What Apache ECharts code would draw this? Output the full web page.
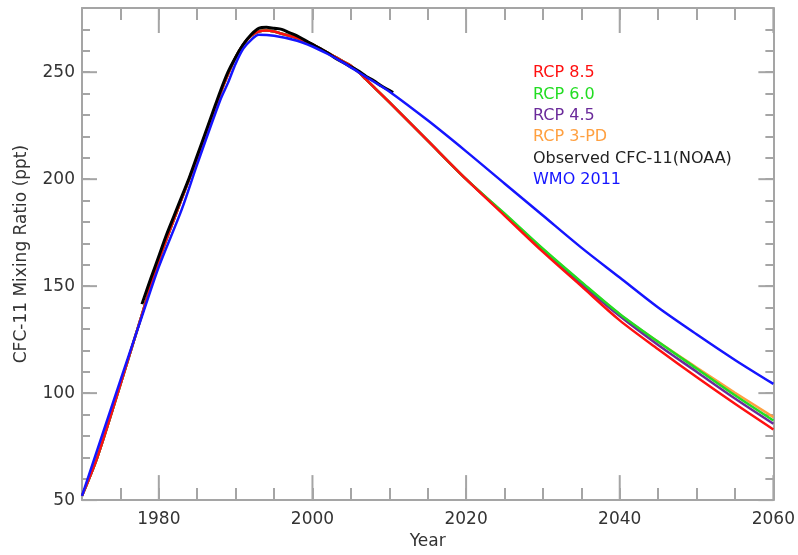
<!DOCTYPE html>
<html>
<head>
<meta charset="utf-8">
<script src="https://cdn.jsdelivr.net/npm/echarts@6/dist/echarts.min.js"></script>
<style>
  html, body { margin: 0; padding: 0; background: #fff; }
  #chart { width: 798px; height: 555px; }
</style>
</head>
<body>
<div id="chart"></div>
<script>
// years on the x axis for the RCP scenarios
var rcpYears = [1970, 1972, 1975, 1978, 1980, 1983, 1985, 1988, 1989, 1990, 1991, 1992, 1993, 1994, 1995, 1996, 1998, 2000, 2003, 2005, 2006, 2007, 2008, 2010, 2015, 2020, 2025, 2030, 2035, 2040, 2045, 2050, 2055, 2060];
var rcp85 = [52, 70, 104, 139, 162, 191, 210, 240, 249, 257, 263, 267, 269, 269.5, 269, 268, 266, 263, 257, 253, 250, 246.5, 243, 236, 218, 200, 183, 166, 150, 134, 120.5, 107.5, 95, 83];
var rcp60 = [52, 70, 104, 139, 162, 191, 210, 240, 249, 257, 263, 267, 269, 269.5, 269, 268, 266, 263, 257, 253, 250, 246.5, 243, 236, 218, 200, 184, 167.5, 152, 137, 124, 111.5, 99, 87.2];
var rcp45 = [52, 70, 104, 139, 162, 191, 210, 240, 249, 257, 263, 267, 269, 269.5, 269, 268, 266, 263, 257, 253, 250, 246.5, 243, 236, 218, 200, 183.5, 167, 151, 136, 122.5, 110, 97.5, 85.7];
var rcp3pd = [52, 70, 104, 139, 162, 191, 210, 240, 249, 257, 263, 267, 269, 269.5, 269, 268, 266, 263, 257, 253, 250, 246.5, 243, 236, 218, 200, 183.7, 167.3, 151.7, 136.8, 124, 112, 100.2, 88.8];

var obsYears = [1977.8, 1979, 1980, 1981, 1982, 1983, 1984, 1985, 1986, 1987, 1988, 1989, 1990, 1991, 1992, 1993, 1994, 1995, 1996, 1997, 1998, 1999, 2000, 2001, 2002, 2003, 2004, 2005, 2006, 2007, 2008, 2009, 2010, 2010.5];
var obsNoaa = [141.6, 154, 164, 174, 183, 192, 201, 211, 221, 231, 241, 250, 257, 263, 267.5, 270.5, 271, 270.5, 270, 268.5, 267, 265, 263, 261, 259, 256.5, 254.5, 252.5, 250.5, 248, 246, 243.5, 241.5, 240.5];

var wmoYears = [1970, 1975, 1978, 1980, 1983, 1985, 1988, 1989, 1990, 1991, 1992, 1993, 1995, 1998, 2000, 2002, 2004, 2006, 2008, 2010, 2015, 2020, 2025, 2030, 2035, 2040, 2045, 2050, 2055, 2060];
var wmo2011 = [52, 106, 138, 159, 186, 207, 237, 245, 254, 261, 265, 267.5, 267, 264.7, 262, 258.5, 254.5, 250, 245.5, 241, 227.5, 213, 198, 183, 168, 154, 140, 127.5, 115.5, 104.3];

// labelled (long) ticks
var xMajorTicks = [1980, 2000, 2020, 2040, 2060];
var yMajorTicks = [50, 100, 150, 200, 250];

function pairs(xs, ys) {
    return xs.map(function (x, i) { return [x, ys[i]]; });
}

var font = 'DejaVu Sans';
var axisGray = '#a5a5a5';
var tickLine = { color: axisGray, width: 2 };
var labelStyle = { color: '#333', fontFamily: font, fontSize: 17 };
var plain = function (v) { return String(v); };

function xAxisDef(pos) {
    return {
        type: 'value', position: pos, min: 1970, max: 2060, interval: 5,
        axisLine: { show: true, lineStyle: tickLine },
        axisTick: { inside: true, length: 12, lineStyle: tickLine },
        axisLabel: pos === 'bottom' ? Object.assign({ customValues: xMajorTicks, formatter: plain, margin: 11 }, labelStyle) : { show: false },
        splitLine: { show: false }
    };
}
function yAxisDef(pos) {
    return {
        type: 'value', position: pos, min: 50, max: 280, interval: 10,
        axisLine: { show: true, lineStyle: tickLine },
        axisTick: { inside: true, length: 8, lineStyle: tickLine },
        axisLabel: pos === 'left' ? Object.assign({ customValues: yMajorTicks, formatter: plain, margin: 7 }, labelStyle) : { show: false },
        splitLine: { show: false }
    };
}

var xMain = xAxisDef('bottom');
xMain.name = 'Year';
xMain.nameLocation = 'middle';
xMain.nameGap = 32;
xMain.nameTextStyle = labelStyle;
var yMain = yAxisDef('left');
yMain.name = 'CFC-11 Mixing Ratio (ppt)';
yMain.nameLocation = 'middle';
yMain.nameGap = 52;
yMain.nameTextStyle = labelStyle;

// long ticks on all four sides, placed through the axis scales
function tickSeg(x1, y1, x2, y2) {
    return { type: 'line', shape: { x1: x1, y1: y1, x2: x2, y2: y2 }, style: { stroke: axisGray, lineWidth: 2 } };
}
var majorTickSeries = [{
    type: 'custom', silent: true, z: 3, xAxisIndex: 0, yAxisIndex: 0,
    data: xMajorTicks.map(function (v) { return [v, 50]; }),
    renderItem: function (params, api) {
        var x = api.coord([api.value(0), 50])[0];
        var top = params.coordSys.y, bottom = top + params.coordSys.height;
        return { type: 'group', children: [tickSeg(x, bottom, x, bottom - 25), tickSeg(x, top, x, top + 25)] };
    }
}, {
    type: 'custom', silent: true, z: 3, xAxisIndex: 0, yAxisIndex: 0,
    data: yMajorTicks.map(function (v) { return [1970, v]; }),
    renderItem: function (params, api) {
        var y = api.coord([1970, api.value(1)])[1];
        var left = params.coordSys.x, right = left + params.coordSys.width;
        return { type: 'group', children: [tickSeg(left, y, left + 15, y), tickSeg(right, y, right - 15, y)] };
    }
}];

var colors = {
    r85: '#ff1010', r60: '#22dd22', r45: '#6a2a9a', r3: '#ffa040', obs: '#000000', wmo: '#1515ff'
};

function lineSeries(name, data, color, width) {
    return {
        name: name, type: 'line', data: data, xAxisIndex: 0, yAxisIndex: 0,
        showSymbol: false, smooth: 0.3, animation: false, z: 4,
        lineStyle: { color: color, width: width }, itemStyle: { color: color }
    };
}

var chart = echarts.init(document.getElementById('chart'));
chart.setOption({
    animation: false,
    grid: { left: 82, right: 24, top: 8, bottom: 53 },
    xAxis: [xMain, xAxisDef('top')],
    yAxis: [yMain, yAxisDef('right')],
    legend: {
        orient: 'vertical', left: 523, top: 60, icon: 'none', itemWidth: 0, itemHeight: 16, itemGap: 5.4,
        selectedMode: false,
        textStyle: { fontFamily: font, fontSize: 16 },
        data: [
            { name: 'RCP 8.5', textStyle: { color: colors.r85 } },
            { name: 'RCP 6.0', textStyle: { color: colors.r60 } },
            { name: 'RCP 4.5', textStyle: { color: colors.r45 } },
            { name: 'RCP 3-PD', textStyle: { color: colors.r3 } },
            { name: 'Observed CFC-11(NOAA)', textStyle: { color: '#222' } },
            { name: 'WMO 2011', textStyle: { color: colors.wmo } }
        ]
    },
    series: majorTickSeries.concat([
        lineSeries('RCP 3-PD', pairs(rcpYears, rcp3pd), colors.r3, 2.5),
        lineSeries('RCP 4.5', pairs(rcpYears, rcp45), colors.r45, 2.5),
        lineSeries('RCP 6.0', pairs(rcpYears, rcp60), colors.r60, 2.5),
        lineSeries('RCP 8.5', pairs(rcpYears, rcp85), colors.r85, 2.5),
        lineSeries('Observed CFC-11(NOAA)', pairs(obsYears, obsNoaa), colors.obs, 3),
        lineSeries('WMO 2011', pairs(wmoYears, wmo2011), colors.wmo, 2.5)
    ])
});
</script>
</body>
</html>
